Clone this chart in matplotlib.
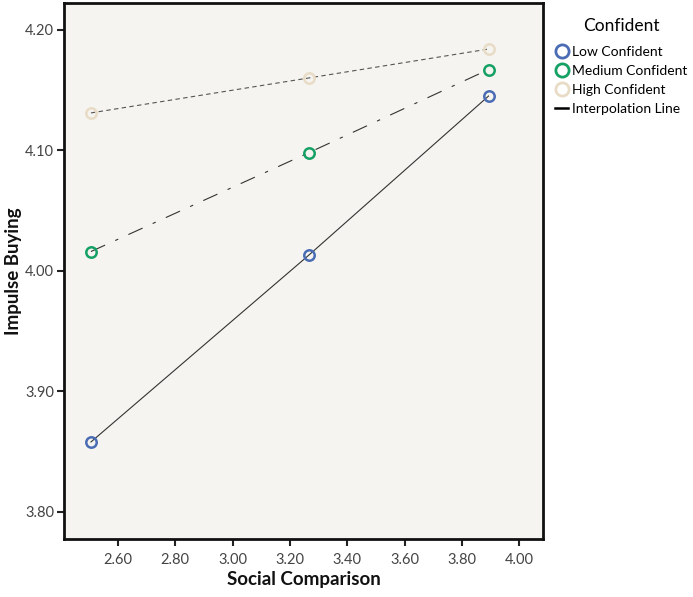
import matplotlib
matplotlib.use("Agg")
import matplotlib.pyplot as plt
from matplotlib.lines import Line2D

plt.rcParams['font.family'] = ['Lato', 'DejaVu Sans']

x_vals = [2.506, 3.266, 3.893]
low_conf = [3.858, 4.013, 4.145]
med_conf = [4.016, 4.098, 4.167]
high_conf = [4.131, 4.160, 4.184]

x_ticks = [2.60, 2.80, 3.00, 3.20, 3.40, 3.60, 3.80, 4.00]
y_ticks = [3.80, 3.90, 4.00, 4.10, 4.20]

series_names = ["Low Confident", "Medium Confident", "High Confident"]
colors = ["#4a6cb4", "#15a064", "#e9dcc6"]

fig = plt.figure(figsize=(6.93, 5.97), dpi=100)
ax = fig.add_axes([64/693, 1-539/597, (543-64)/693, (539-3)/597])
ax.set_facecolor("#f5f4f0")

line_col = "#333333"
ax.plot(x_vals, low_conf, color=line_col, lw=0.8, ls='-', zorder=2)
ax.plot(x_vals, med_conf, color=line_col, lw=0.8, ls=(0, (14, 10, 3, 10)), zorder=2)
ax.plot(x_vals, high_conf, color="#555555", lw=0.8, ls=(0, (4, 3)), zorder=2)

for ys, c in zip([low_conf, med_conf, high_conf], colors):
    ax.plot(x_vals, ys, ls='none', marker='o', markersize=7.5, markerfacecolor='none',
            markeredgecolor=c, markeredgewidth=1.8, zorder=3)

ax.set_xlim(2.412, 4.083)
ax.set_ylim(3.7775, 4.2222)
ax.set_xticks(x_ticks)
ax.set_xticklabels([f"{v:.2f}" for v in x_ticks])
ax.set_yticks(y_ticks)
ax.set_yticklabels([f"{v:.2f}" for v in y_ticks])
ax.tick_params(axis='both', labelsize=10.5, colors='#222222', length=5, width=1.5)
ax.tick_params(axis='x', labelcolor='#444444', pad=5)
ax.tick_params(axis='y', labelcolor='#444444', pad=2)

for s in ax.spines.values():
    s.set_linewidth(2.0)
    s.set_color('#111111')

ax.set_xlabel("Social Comparison", fontsize=13.5, fontweight='bold', color='#111111')
ax.set_ylabel("Impulse Buying", fontsize=13.5, fontweight='bold', color='#111111')
ax.xaxis.set_label_coords(0.5, -(580 - 539) / 536, transform=ax.transAxes)
ax.xaxis.label.set_va('center')
ax.yaxis.set_label_coords(-(64 - 14) / 479, 0.5, transform=ax.transAxes)
ax.yaxis.label.set_va('center')

handles = [Line2D([], [], ls='none', marker='o', markersize=9.5, markerfacecolor='none',
                  markeredgecolor=c, markeredgewidth=2) for c in colors]
handles.append(Line2D([], [], color='black', lw=1.8))
labels = series_names + ["Interpolation Line"]
leg = fig.legend(handles, labels, title="Confident", loc='upper left',
                 bbox_to_anchor=(549/693, 1-12/597), frameon=False, fontsize=10,
                 title_fontsize=12.5, handlelength=1.0, handletextpad=0.25,
                 labelspacing=0.5, borderaxespad=0)
leg._legend_box.align = "center"
leg._legend_box.sep = 9

fig.savefig("out.png", dpi=100)
